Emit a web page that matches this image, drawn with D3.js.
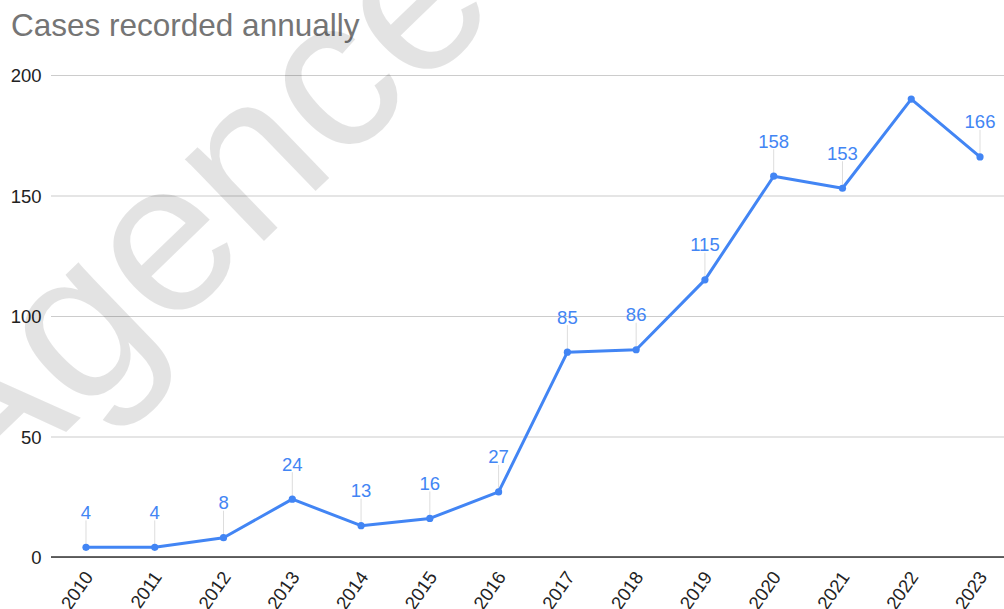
<!DOCTYPE html>
<html>
<head>
<meta charset="utf-8">
<script src="https://cdn.jsdelivr.net/npm/d3@7"></script>
<style>
  html, body { margin: 0; padding: 0; background: #fff; }
  svg { display: block; font-family: Arial, "Liberation Sans", sans-serif; }
</style>
</head>
<body>
<svg id="chart" width="1004" height="609"></svg>
<script>
const years = ["2010","2011","2012","2013","2014","2015","2016","2017","2018","2019","2020","2021","2022","2023"];
const cases = [4, 4, 8, 24, 13, 16, 27, 85, 86, 115, 158, 153, 190, 166];
const labelShown = [true, true, true, true, true, true, true, true, true, true, true, true, false, true];
const yTicks = [0, 50, 100, 150, 200];
const titleText = "Cases recorded annually";
const watermarkText = "Agence";

const W = 1004, H = 609;
const svg = d3.select("#chart");
const blue = "#4285F4";

const x = d3.scaleBand().domain(years).range([51.6, 1014.4]);
const cx = d => x(d) + x.bandwidth() / 2;
const y = d3.scaleLinear().domain([0, 200]).range([557, 75]);

// gridlines
const grid = d3.axisLeft(y).tickValues(yTicks).tickSize(-(W - 51)).tickFormat("");
svg.append("g").attr("transform", "translate(51,0)").call(grid)
  .call(g => g.select(".domain").remove())
  .call(g => g.selectAll("line").attr("stroke", "#cccccc").attr("stroke-width", 1.2));

// y tick labels
const yAxis = d3.axisLeft(y).tickValues(yTicks).tickSize(0).tickPadding(0);
svg.append("g").attr("transform", "translate(41.5,0)").call(yAxis)
  .call(g => g.select(".domain").remove())
  .call(g => g.selectAll("text").attr("font-size", "18.5px").attr("fill", "#222")
    .attr("font-family", "Arial, 'Liberation Sans', sans-serif").attr("dy", "0.36em"));

// baseline
svg.append("line").attr("x1", 51).attr("x2", W).attr("y1", y(0)).attr("y2", y(0))
  .attr("stroke", "#333").attr("stroke-width", 1.5);

// x axis labels
const xAxis = d3.axisBottom(x).tickSize(0).tickPadding(0);
svg.append("g").attr("transform", `translate(0,${y(0)})`).call(xAxis)
  .call(g => g.select(".domain").remove())
  .call(g => g.selectAll("text")
    .attr("font-size", "18.5px").attr("fill", "#222")
    .attr("font-family", "Arial, 'Liberation Sans', sans-serif")
    .attr("text-anchor", "end").attr("dy", null).attr("y", 0)
    .attr("transform", "translate(8,20) rotate(-55)"));

const data = years.map((yr, i) => ({ yr, v: cases[i], show: labelShown[i] }));

// leader lines
svg.append("g").selectAll("line").data(data.filter(d => d.show)).join("line")
  .attr("x1", d => cx(d.yr)).attr("x2", d => cx(d.yr))
  .attr("y1", d => y(d.v) - 2).attr("y2", d => y(d.v) - 27)
  .attr("stroke", "#dddddd").attr("stroke-width", 1);

// line
const line = d3.line().x(d => cx(d.yr)).y(d => y(d.v));
svg.append("path").datum(data).attr("d", line)
  .attr("fill", "none").attr("stroke", blue).attr("stroke-width", 3)
  .attr("stroke-linejoin", "round");

// points
svg.append("g").selectAll("circle").data(data).join("circle")
  .attr("cx", d => cx(d.yr)).attr("cy", d => y(d.v)).attr("r", 3.6).attr("fill", blue);

// data labels
svg.append("g").selectAll("text").data(data.filter(d => d.show)).join("text")
  .attr("x", d => cx(d.yr)).attr("y", d => y(d.v) - 28.5)
  .attr("text-anchor", "middle").attr("font-size", "18.5px").attr("fill", blue)
  .text(d => d.v);

// title
svg.append("text").attr("x", 11).attr("y", 36).attr("font-size", "31.5px")
  .attr("fill", "#757575").text(titleText);

// watermark
svg.append("text").attr("transform", "translate(-22,517) rotate(-44)")
  .attr("font-size", "215px").attr("fill", "#000").attr("fill-opacity", 0.11)
  .text(watermarkText);
</script>
</body>
</html>
